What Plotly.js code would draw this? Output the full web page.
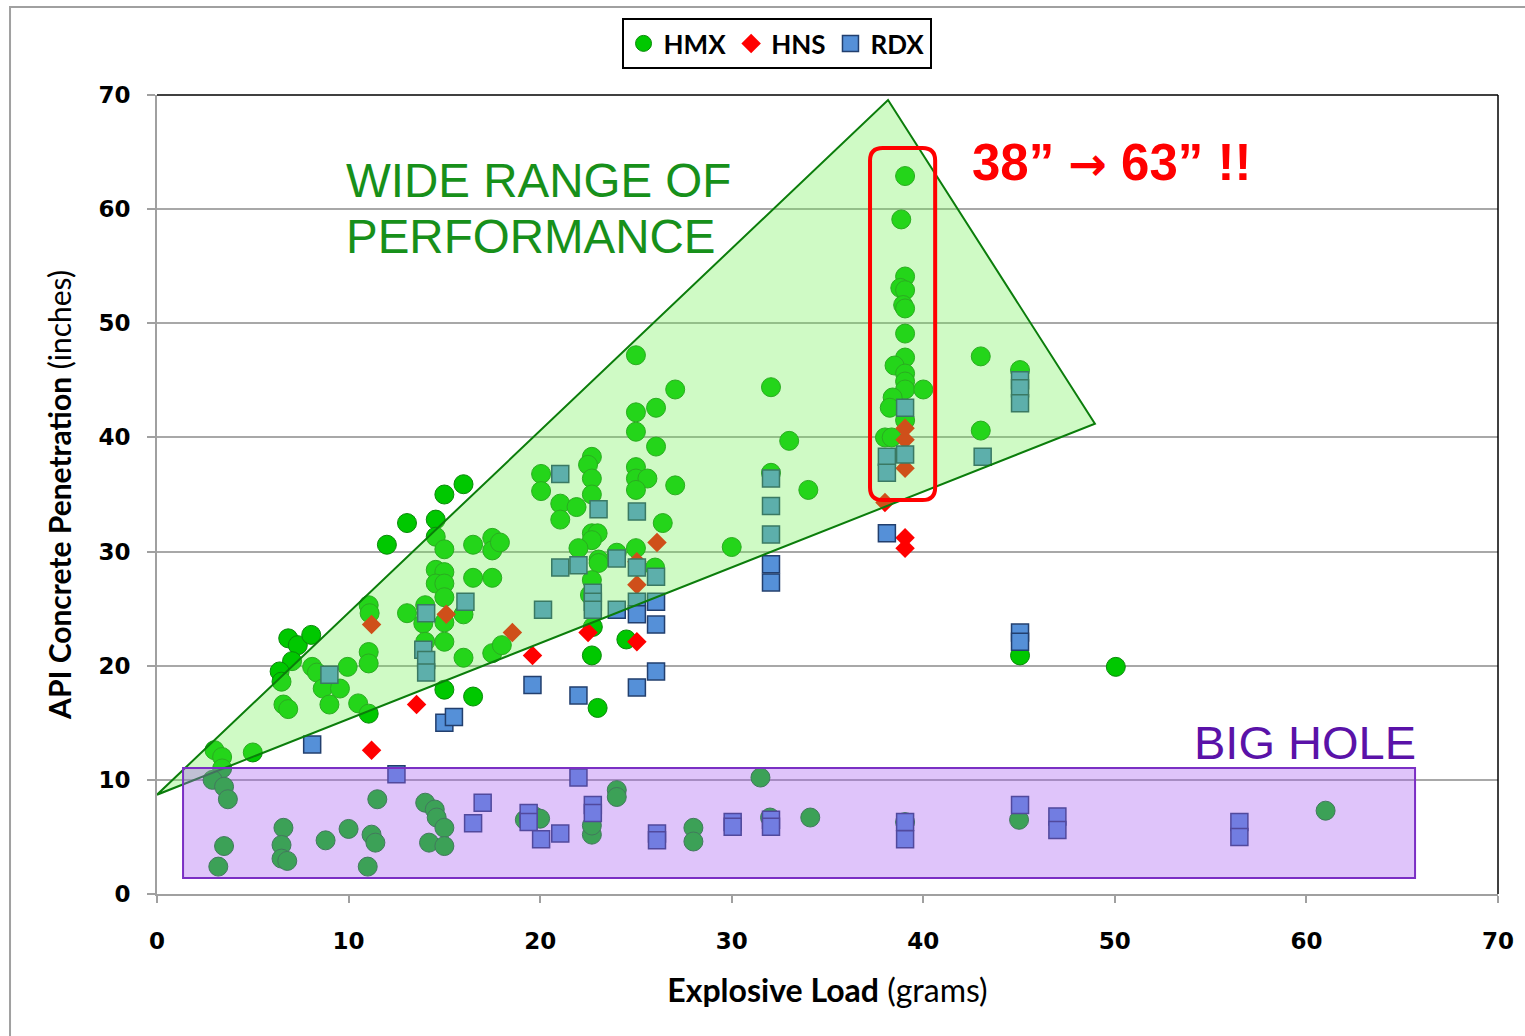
<!DOCTYPE html>
<html>
<head>
<meta charset="utf-8">
<script src="https://cdn.plot.ly/plotly-3.0.1.min.js"></script>
<style>html,body{margin:0;padding:0;background:#fff;}#chart{width:1525px;height:1036px;}</style>
</head>
<body>
<div id="chart"></div>
<script>
// ---- Data (Explosive Load in grams, API Concrete Penetration in inches) ----
const hmxX = [3.0,3.4,5.0,3.4,2.9,3.5,3.7,3.5,3.2,
  6.6,6.5,6.5,6.8,8.8,10.0,11.5,11.2,11.4,11.0,
  14.0,14.5,14.6,15.0,14.2,15.0,19.2,19.7,20.0,22.7,22.7,24.0,24.0,
  28.0,28.0,31.5,32.0,34.1,39.05,45.0,61.0,
  16.0,15.0,13.05,14.55,12.0,14.55,15.0,16.5,17.5,17.5,14.55,15.0,14.55,15.0,15.0,16.5,17.5,
  11.05,11.1,13.05,14.0,13.9,15.0,16.0,15.0,14.0,
  6.85,7.35,8.05,7.05,6.4,6.5,8.1,8.35,8.65,9.55,9.95,9.0,6.6,6.85,10.5,11.05,11.05,11.05,
  15.0,16.5,16.0,17.5,18.0,
  25.0,27.05,26.05,25.0,25.0,26.05,22.7,22.5,25.0,25.0,25.6,27.05,22.7,20.05,20.05,25.0,22.7,
  21.05,21.9,21.05,26.4,22.7,23.0,22.7,22.0,25.0,24.0,23.05,17.9,
  23.05,22.7,22.6,26.0,22.75,22.7,24.5,23.0,
  32.05,33.0,32.05,34.0,30.0,
  39.05,38.85,39.05,38.8,39.05,38.95,39.05,39.05,39.05,38.5,39.05,39.05,39.05,40.0,38.4,38.25,38.0,38.35,39.05,
  43.0,43.0,45.05,45.05,50.05];
const hmxY = [12.6,12.0,12.4,11.0,10.0,9.4,8.3,4.2,2.4,
  5.8,4.3,3.1,2.9,4.7,5.7,8.3,5.2,4.5,2.4,
  8.0,7.4,6.7,5.8,4.5,4.2,6.5,6.8,6.6,5.2,6.0,9.1,8.5,
  5.8,4.6,10.2,6.7,6.7,6.3,6.5,7.3,
  35.9,35.0,32.5,32.8,30.6,31.3,30.2,30.6,31.2,30.1,28.4,28.2,27.2,27.2,26.0,27.7,27.7,
  25.3,24.6,24.6,25.3,23.7,23.8,24.5,22.1,22.1,
  22.4,21.8,22.7,20.4,19.5,18.6,19.9,19.4,18.0,18.0,19.9,16.6,16.6,16.2,16.7,15.8,21.2,20.2,
  17.9,17.3,20.7,21.1,21.8,
  47.2,44.2,42.6,42.2,40.5,39.2,38.3,37.6,37.4,36.4,36.4,35.8,36.4,36.8,35.3,35.4,35.0,
  34.2,33.9,32.8,32.5,31.6,31.6,31.0,30.3,30.3,29.9,29.3,30.8,
  29.0,27.5,26.2,28.6,23.4,20.9,22.3,16.3,
  44.4,39.7,36.9,35.4,30.4,
  62.9,59.1,54.1,53.1,52.9,51.6,51.3,49.1,47.0,46.3,45.6,44.9,44.2,44.2,43.5,42.6,40.0,40.0,41.5,
  47.1,40.6,45.9,20.9,19.9];

const hnsX = [11.2,15.1,13.55,11.2,18.55,19.6,26.1,25.05,25.05,22.5,25.05,39.05,39.05,39.05,38.0,39.05,39.05];
const hnsY = [23.6,24.5,16.6,12.6,22.9,20.9,30.8,27.1,29.1,22.9,22.1,40.8,39.8,37.3,34.3,31.2,30.3];

const rdxX = [8.1,9.0,12.5,14.05,13.9,14.05,14.05,15.0,15.5,16.1,16.5,17.0,19.4,19.4,20.05,21.05,19.6,20.15,
  21.05,21.05,22.0,22.0,22.0,22.75,22.75,23.05,22.75,22.75,22.75,24.0,24.0,25.05,25.05,25.05,25.05,
  26.05,26.05,26.05,26.05,25.05,26.1,26.1,30.05,30.05,32.05,32.05,32.05,32.05,32.05,32.05,32.05,
  38.1,38.1,38.1,39.05,39.05,39.05,39.05,43.1,45.05,45.05,45.05,45.05,45.05,45.05,47.0,47.0,56.5,56.5];
const rdxY = [13.1,19.2,10.5,24.6,21.4,20.5,19.4,15.0,15.5,25.6,6.2,8.0,7.1,6.3,4.8,5.3,18.3,24.9,
  36.8,28.6,28.8,17.4,10.2,7.8,7.1,33.7,26.4,25.6,24.9,29.4,24.9,33.5,28.6,25.6,24.5,
  27.8,25.6,23.6,19.5,18.1,5.3,4.7,6.3,5.9,6.5,5.9,36.4,34.0,31.5,28.9,27.3,
  31.6,38.3,36.9,42.6,38.5,6.3,4.8,38.3,45.0,44.3,43.0,22.9,22.1,7.8,6.8,5.6,6.3,5.0];

const xTicks = [0,10,20,30,40,50,60,70];
const yTicks = [0,10,20,30,40,50,60,70];

// ---- Annotation regions (data coordinates) ----
const tri = {x:[0,38.16,48.96], y:[8.7,69.56,41.2]};
const bigHole = {x0:1.36, x1:65.67, y0:1.4, y1:11.04};
const redBox = {x0:37.22, x1:40.62, y0:34.52, y1:65.36, rx:0.66, ry:1.1};

function roundRectPath(b){
  const {x0,x1,y0,y1,rx,ry} = b;
  return `M ${x0+rx},${y1} L ${x1-rx},${y1} Q ${x1},${y1} ${x1},${y1-ry} L ${x1},${y0+ry} Q ${x1},${y0} ${x1-rx},${y0} ` +
         `L ${x0+rx},${y0} Q ${x0},${y0} ${x0},${y0+ry} L ${x0},${y1-ry} Q ${x0},${y1} ${x0+rx},${y1} Z`;
}

const traces = [
  {type:'scatter', mode:'markers', name:'HMX', x:hmxX, y:hmxY,
   marker:{symbol:'circle', size:19, color:'#00c800', line:{color:'#0a8a0a', width:1}}},
  {type:'scatter', mode:'markers', name:'HNS', x:hnsX, y:hnsY,
   marker:{symbol:'diamond', size:15, color:'#ff0000', line:{width:0}}},
  {type:'scatter', mode:'markers', name:'RDX', x:rdxX, y:rdxY,
   marker:{symbol:'square', size:17, color:'#5590d8', line:{color:'#223f6e', width:1.5}}}
];

const tickFont = {family:'DejaVu Sans, Verdana, sans-serif', size:23, color:'#000', weight:'bold'};

const layout = {
  width:1525, height:1036,
  margin:{l:157, r:27, t:95, b:142, pad:0},
  paper_bgcolor:'#fff', plot_bgcolor:'#fff',
  showlegend:true,
  legend:{orientation:'h', x:0.462, xanchor:'center', y:1.0964, yanchor:'top',
          bgcolor:'#fff', bordercolor:'#000', borderwidth:2,
          font:{family:'Lato, sans-serif', size:26, color:'#000', weight:'bold'},
          itemwidth:30, tracegroupgap:0},
  xaxis:{range:[0,70], tickvals:xTicks, ticktext:xTicks.map(String), showgrid:false, zeroline:false,
         showline:true, linecolor:'#a0a0a0', linewidth:2, ticks:'outside', ticklen:7, tickcolor:'#a0a0a0', tickwidth:2,
         tickfont:tickFont, ticklabelstandoff:18,
         title:{text:'<b>Explosive Load</b> (grams)', font:{family:'Lato, sans-serif', size:32, color:'#000'}, standoff:27}},
  yaxis:{range:[0,70], tickvals:yTicks, ticktext:yTicks.map(String), showgrid:true, gridcolor:'#a8a8a8', gridwidth:2, zeroline:false,
         showline:true, linecolor:'#a0a0a0', linewidth:2, ticks:'outside', ticklen:8, tickcolor:'#a0a0a0', tickwidth:2,
         tickfont:tickFont, ticklabelstandoff:12,
         title:{text:'<b>API Concrete Penetration</b> (inches)', font:{family:'Lato, sans-serif', size:30, color:'#000'}, standoff:18}},
  shapes:[
    {type:'rect', xref:'paper', yref:'paper', x0:-0.1096, x1:1.06, y0:-0.3, y1:1.1101, line:{color:'#a0a0a0', width:2}, layer:'below'},
    {type:'line', xref:'paper', yref:'paper', x0:0, x1:1, y0:1, y1:1, line:{color:'#000', width:1.5}},
    {type:'line', xref:'paper', yref:'paper', x0:1, x1:1, y0:0, y1:1, line:{color:'#000', width:1.5}},
    {type:'path', xref:'x', yref:'y', path:`M ${tri.x[0]},${tri.y[0]} L ${tri.x[1]},${tri.y[1]} L ${tri.x[2]},${tri.y[2]} Z`,
     fillcolor:'rgba(110,240,80,0.33)', line:{color:'#0b7d0b', width:2}, layer:'above'},
    {type:'rect', xref:'x', yref:'y', x0:bigHole.x0, x1:bigHole.x1, y0:bigHole.y0, y1:bigHole.y1,
     fillcolor:'rgba(167,92,242,0.36)', line:{color:'#7b2fc4', width:2}, layer:'above'},
    {type:'path', xref:'x', yref:'y', path:roundRectPath(redBox), fillcolor:'rgba(0,0,0,0)',
     line:{color:'#ff0000', width:4}, layer:'above'}
  ],
  annotations:[
    {xref:'x', yref:'y', x:9.78, y:65.0, xanchor:'left', yanchor:'top', showarrow:false,
     text:'WIDE RANGE OF', font:{family:'Liberation Sans, Arial, sans-serif', size:47.5, color:'#17901a'}},
    {xref:'x', yref:'y', x:9.78, y:60.1, xanchor:'left', yanchor:'top', showarrow:false,
     text:'PERFORMANCE', font:{family:'Liberation Sans, Arial, sans-serif', size:47.5, color:'#17901a'}},
    {xref:'x', yref:'y', x:42.44, y:64.1, xanchor:'left', yanchor:'middle', showarrow:false,
     text:'38” <span style="font-family:DejaVu Sans;font-size:46px">→</span> 63” !!',
     font:{family:'Liberation Sans, Arial, sans-serif', size:51, color:'#ff0000', weight:'bold'}},
    {xref:'x', yref:'y', x:65.83, y:13.3, xanchor:'right', yanchor:'middle', showarrow:false,
     text:'BIG HOLE', font:{family:'Liberation Sans, Arial, sans-serif', size:47, color:'#5a12a8'}}
  ]
};

Plotly.newPlot('chart', traces, layout, {displayModeBar:false, staticPlot:true});
</script>
</body>
</html>
